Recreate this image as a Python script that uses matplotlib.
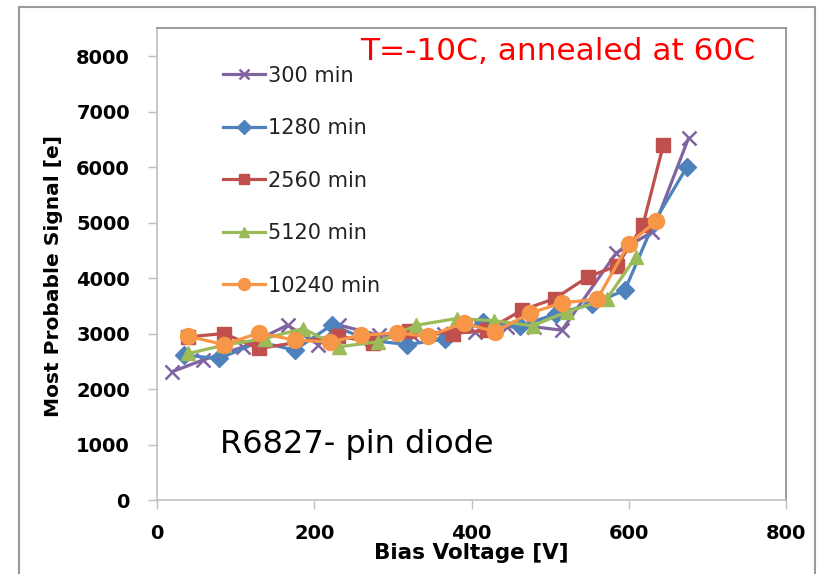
import numpy as np
import matplotlib
matplotlib.use("Agg")
import matplotlib.pyplot as plt
from matplotlib.patches import Rectangle

plt.rcParams['font.family'] = ['DejaVu Sans']

# annealing series: bias voltage [V] and most probable signal [e]
v_300 = [19, 58, 110, 166, 205, 232, 282, 325, 365, 405, 445, 480, 515, 584, 630, 676]
s_300 = [2310, 2520, 2760, 3150, 2800, 3150, 2970, 2960, 3000, 3030, 3120, 3120, 3060, 4450, 4830, 6520]

v_1280 = [34, 79, 130, 175, 222, 270, 318, 366, 414, 462, 508, 553, 595, 632, 674]
s_1280 = [2610, 2550, 2850, 2700, 3150, 2880, 2800, 2900, 3210, 3130, 3360, 3530, 3780, 5000, 6000]

v_2560 = [40, 85, 130, 230, 275, 320, 376, 420, 464, 506, 548, 585, 618, 644]
s_2560 = [2940, 3000, 2730, 2960, 2830, 3050, 3000, 3060, 3420, 3630, 4020, 4220, 4950, 6400]

v_5120 = [40, 85, 137, 186, 231, 281, 330, 381, 429, 478, 521, 572, 609]
s_5120 = [2640, 2790, 2910, 3090, 2760, 2850, 3150, 3270, 3230, 3140, 3390, 3620, 4380]

v_10240 = [40, 85, 130, 175, 220, 260, 305, 345, 390, 430, 475, 515, 560, 600, 635]
s_10240 = [2950, 2800, 3010, 2880, 2850, 2970, 3010, 2950, 3190, 3030, 3370, 3550, 3620, 4620, 5020]

labels = ['300 min', '1280 min', '2560 min', '5120 min', '10240 min']
colors = ['#8064A2', '#4F81BD', '#C0504D', '#9BBB59', '#F79646']
markers = ['x', 'D', 's', '^', 'o']
msizes = [10, 9, 10, 10, 11.5]

xs = [v_300, v_1280, v_2560, v_5120, v_10240]
ys = [s_300, s_1280, s_2560, s_5120, s_10240]

fig = plt.figure(figsize=(8.19, 5.74), dpi=100)
ax = fig.add_axes([157 / 819, 1 - 500 / 574, 629 / 819, 472 / 574])

# outer chart frame
fig.patches.append(Rectangle((19 / 819, -0.05), 796 / 819, 1.05 - 7 / 574,
                             transform=fig.transFigure, fill=False,
                             edgecolor='#9a9a9a', lw=1.5))

for x, y, lab, c, m, ms in zip(xs, ys, labels, colors, markers, msizes):
    ax.plot(x, y, color=c, marker=m, markersize=ms, lw=2.3, label=lab,
            markeredgewidth=1.8 if m == 'x' else 1.0, markeredgecolor=c)

ax.set_xlim(0, 800)
ax.set_ylim(0, 8505)
ax.set_xticks(np.arange(0, 801, 200))
ax.set_yticks(np.arange(0, 8001, 1000))

for side in ['left', 'bottom']:
    ax.spines[side].set_color('#c0c0c0')
    ax.spines[side].set_linewidth(1.2)
for side in ['top', 'right']:
    ax.spines[side].set_color('#8c8c8c')
    ax.spines[side].set_linewidth(1.2)

ax.tick_params(axis='both', direction='out', length=6.5, width=1, color='#c0c0c0',
               labelsize=14)
ax.tick_params(axis='y', pad=13)
ax.tick_params(axis='x', pad=11)
for t in ax.get_xticklabels() + ax.get_yticklabels():
    t.set_fontweight('bold')

ax.set_xlabel('Bias Voltage [V]', fontsize=15.5, fontweight='bold')
ax.xaxis.set_label_coords(0.5, -0.092)
ax.set_ylabel('Most Probable Signal [e]', fontsize=14.5, fontweight='bold')
ax.yaxis.set_label_coords(-0.15, 0.475)

leg = ax.legend(loc='upper left', bbox_to_anchor=(0.105, 0.92), frameon=False,
                fontsize=15, handlelength=2.0, handletextpad=0.15,
                labelspacing=1.56, borderaxespad=0, borderpad=0, markerscale=0.75)
for t in leg.get_texts():
    t.set_color('#222222')

fig.text(558 / 819, 1 - 51 / 574, 'T=-10C, annealed at 60C', color='red',
         fontsize=22.5, ha='center', va='center')
fig.text(357 / 819, 1 - 444 / 574, 'R6827- pin diode', color='black',
         fontsize=23, ha='center', va='center')

fig.savefig('out.png', dpi=100)
